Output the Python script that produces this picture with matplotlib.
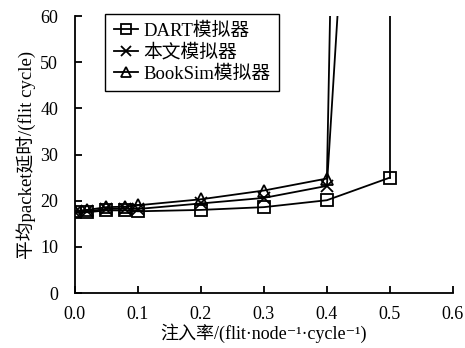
import matplotlib
matplotlib.use("Agg")
import matplotlib.pyplot as plt

plt.rcParams['font.family'] = ['Liberation Serif', 'Noto Sans CJK SC', 'DejaVu Serif']

# injection rate vs average packet latency
x_dart = [0.0, 0.02, 0.05, 0.08, 0.1, 0.2, 0.3, 0.4, 0.5, 0.5]
y_dart = [17.5, 17.5, 17.9, 17.9, 17.7, 18.0, 18.6, 20.1, 25.0, 90.0]

x_ours = [0.0, 0.02, 0.05, 0.08, 0.1, 0.2, 0.3, 0.4, 0.42]
y_ours = [17.6, 17.7, 18.2, 18.3, 18.2, 19.4, 20.6, 23.2, 67.0]

x_book = [0.0, 0.02, 0.05, 0.08, 0.1, 0.2, 0.3, 0.4, 0.41]
y_book = [17.8, 18.0, 18.6, 18.7, 19.0, 20.3, 22.2, 24.8, 95.0]

fig = plt.figure(figsize=(4.65, 3.48), dpi=100)
ax = fig.add_axes([0.161, 0.158, 0.813, 0.796])

style = dict(color='black', lw=1.3, ms=8, mfc='none', mew=1.3)
ax.plot(x_dart[:-1], y_dart[:-1], marker='s', label='DART模拟器', **style)
ax.plot(x_dart[-2:], y_dart[-2:], color='black', lw=1.3)
ax.plot(x_ours[:-1], y_ours[:-1], marker='x', label='本文模拟器', **style)
ax.plot(x_ours[-2:], y_ours[-2:], color='black', lw=1.3)
ax.plot(x_book[:-1], y_book[:-1], marker='^', label='BookSim模拟器', **style)
ax.plot(x_book[-2:], y_book[-2:], color='black', lw=1.3)

ax.set_xlim(0, 0.6)
ax.set_ylim(0, 60)
ax.set_xticks([0.0, 0.1, 0.2, 0.3, 0.4, 0.5, 0.6])
ax.set_xticklabels(['0.0', '0.1', '0.2', '0.3', '0.4', '0.5', '0.6'])
ax.set_yticks([0, 10, 20, 30, 40, 50, 60])
ax.spines['top'].set_visible(False)
ax.spines['right'].set_visible(False)
for s in ['left', 'bottom']:
    ax.spines[s].set_linewidth(1.3)
ax.tick_params(direction='in', length=5, width=1.3, labelsize=13)
ax.tick_params(axis='x', pad=9)
ax.tick_params(axis='y', pad=12)

ax.set_xlabel('注入率/(flit·node⁻¹·cycle⁻¹)', fontsize=13, labelpad=1)
ax.set_ylabel('平均packet延时/(flit cycle)', fontsize=13.5, labelpad=3)

leg = ax.legend(loc='upper left', bbox_to_anchor=(0.08, 1.008), fontsize=13.5,
                frameon=True, fancybox=False, edgecolor='black', framealpha=1,
                handlelength=1.3, handletextpad=0.3, borderpad=0.45,
                labelspacing=0.22, borderaxespad=0.0, markerscale=0.85)
leg.get_frame().set_linewidth(1.0)

fig.savefig('out.png', dpi=100)
